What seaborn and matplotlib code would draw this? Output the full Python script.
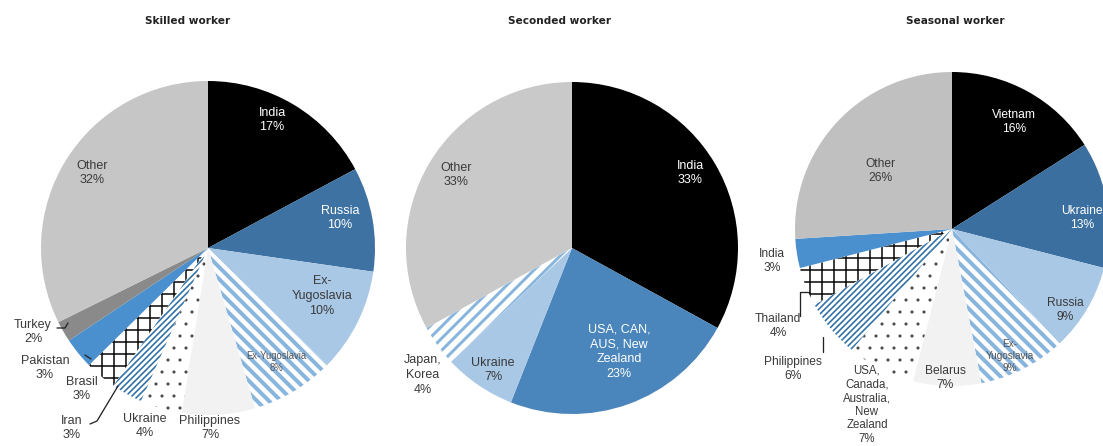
import matplotlib
matplotlib.use("Agg")
import matplotlib.pyplot as plt
import seaborn as sns

# ---------------- data ----------------
titles = ["Skilled worker", "Seconded worker", "Seasonal worker"]

skilled_names = ["India", "Russia", "Ex-\nYugoslavia", "Ex-Yugoslavia", "Philippines",
                 "Ukraine", "Iran", "Brasil", "Pakistan", "Turkey", "Other"]
skilled_values = [17, 10, 10, 8, 7, 4, 3, 3, 3, 2, 32]

seconded_names = ["India", "USA, CAN,\nAUS, New\nZealand", "Ukraine", "Japan,\nKorea", "Other"]
seconded_values = [33, 23, 7, 4, 33]

seasonal_names = ["Vietnam", "Ukraine", "Russia", "Ex-\nYugoslavia", "Belarus",
                  "USA,\nCanada,\nAustralia,\nNew\nZealand", "Philippines", "Thailand",
                  "India", "Other"]
seasonal_values = [16, 13, 9, 9, 7, 7, 6, 4, 3, 26]

# ---------------- styles ----------------
BLACK = "#000000"
DBLUE = "#3d72a3"
MBLUE = "#4a85bb"
LBLUE = "#a9c8e6"
BRBLUE = "#4a90cf"
STRIPE = "#88b5de"
DENSE = "#2f6fa7"
PALE = "#f2f2f2"
DGRAY = "#8a8a8a"
OTHER = "#c6c6c6"

# (facecolor, hatch, hatchcolor, hatch linewidth)
S_SOLID = lambda c: (c, None, None, 0)
S_STRIPE = ("white", "\\\\", STRIPE, 4.0)
S_STRIPE2 = ("white", "//", STRIPE, 3.0)
S_DENSE = ("white", "////", DENSE, 1.6)
S_CROSS = ("white", "+", "#111111", 1.6)
S_DOTS = ("white", ".", "#444444", 0.6)

skilled_styles = [S_SOLID(BLACK), S_SOLID(DBLUE), S_SOLID(LBLUE), S_STRIPE, S_SOLID(PALE),
                  S_DOTS, S_DENSE, S_CROSS, S_SOLID(BRBLUE), S_SOLID(DGRAY), S_SOLID(OTHER)]
seconded_styles = [S_SOLID(BLACK), S_SOLID(MBLUE), S_SOLID(LBLUE), S_STRIPE2, S_SOLID("#c9c9c9")]
seasonal_styles = [S_SOLID(BLACK), S_SOLID("#3a6f9f"), S_SOLID(LBLUE), S_STRIPE, S_SOLID(PALE),
                   S_DOTS, S_DENSE, S_CROSS, S_SOLID(BRBLUE), S_SOLID("#c0c0c0")]

# ---------------- layout (pixels) ----------------
W, H = 1103, 446
pies = [  # centre x, centre y, radius
    (208, 248, 167),
    (572, 248, 166),
    (952, 229, 157),
]
title_pos = [(188, 21), (560, 21), (955, 21)]

WH, DK = "white", "#3a3a3a"
# (position, colour, fontsize, linespacing)
skilled_lab = [((272, 120), WH, 12.5, 1.3), ((340, 218), WH, 12.5, 1.3), ((322, 296), DK, 12.5, 1.3),
               ((276, 362), "#555555", 9.5, 1.3), ((210, 428), DK, 12.5, 1.3), ((145, 426), DK, 12.5, 1.3),
               ((72, 428), DK, 12.5, 1.3), ((82, 389), DK, 12.5, 1.3), ((45, 368), DK, 12.5, 1.3),
               ((33, 332), DK, 12.5, 1.3), ((92, 173), DK, 12.5, 1.3)]
seconded_lab = [((690, 173), WH, 12.5, 1.3), ((619, 352), WH, 12.5, 1.3), ((493, 370), DK, 12.5, 1.3),
                ((423, 375), DK, 12.5, 1.3), ((456, 175), DK, 12.5, 1.3)]
seasonal_lab = [((1014, 122), WH, 12, 1.3), ((1082, 218), WH, 12, 1.3), ((1065, 310), DK, 12, 1.3),
                ((1010, 356), "#555555", 10, 1.3), ((945, 378), DK, 12, 1.3), ((867, 405), DK, 11.5, 1.18),
                ((793, 369), DK, 12, 1.3), ((778, 326), DK, 12, 1.3), ((772, 261), DK, 12, 1.3),
                ((880, 171), DK, 12, 1.3)]

leaders = [
    [[(57, 328), (65, 328), (68, 323)], [(85, 355), (91, 359)], [(90, 424), (97, 421), (118, 386)]],
    [],
    [[(800, 316), (800, 292), (809, 292)], [(823, 352), (823, 337)]],
]

# ---------------- drawing ----------------
sns.set_theme(style="white")
plt.rcParams["font.family"] = ["Liberation Sans", "DejaVu Sans"]
plt.rcParams["hatch.linewidth"] = 2.0

fig = plt.figure(figsize=(W / 72, H / 72), dpi=72)
fig.patch.set_facecolor("white")

all_values = [skilled_values, seconded_values, seasonal_values]
all_names = [skilled_names, seconded_names, seasonal_names]
all_styles = [skilled_styles, seconded_styles, seasonal_styles]
all_labs = [skilled_lab, seconded_lab, seasonal_lab]

for i, (cx, cy, R) in enumerate(pies):
    ax = fig.add_axes([(cx - R) / W, (H - cy - R) / H, 2 * R / W, 2 * R / H])
    styles = all_styles[i]
    wedges, _ = ax.pie(all_values[i], startangle=90, counterclock=False,
                       colors=[s[0] for s in styles],
                       wedgeprops=dict(linewidth=0))
    for w, (fc, hatch, hc, hlw) in zip(wedges, styles):
        w.set_facecolor(fc)
        if hatch:
            w.set_hatch(hatch)
            w.set_edgecolor(hc)
            w.set_linewidth(0)
            if hasattr(w, "set_hatch_linewidth"):
                w.set_hatch_linewidth(hlw)
    ax.set_xlim(-1, 1)
    ax.set_ylim(-1, 1)
    ax.set_aspect("equal", adjustable="box")
    ax.axis("off")

    def to_data(px, py):
        return (px - cx) / R, (cy - py) / R

    for name, v, ((px, py), col, fs, ls) in zip(all_names[i], all_values[i], all_labs[i]):
        x, y = to_data(px, py)
        ax.text(x, y, f"{name}\n{v}%", ha="center", va="center", color=col,
                fontsize=fs, linespacing=ls, clip_on=False)
    for line in leaders[i]:
        xs, ys = zip(*[to_data(px, py) for px, py in line])
        ax.plot(xs, ys, color="#222222", lw=1.3, clip_on=False)

    tx, ty = title_pos[i]
    fig.text(tx / W, 1 - ty / H, titles[i], ha="center", va="center",
             fontsize=10.5, fontweight="bold", color="#222222", family="DejaVu Sans")

fig.savefig("out.png", dpi=72, facecolor="white")
